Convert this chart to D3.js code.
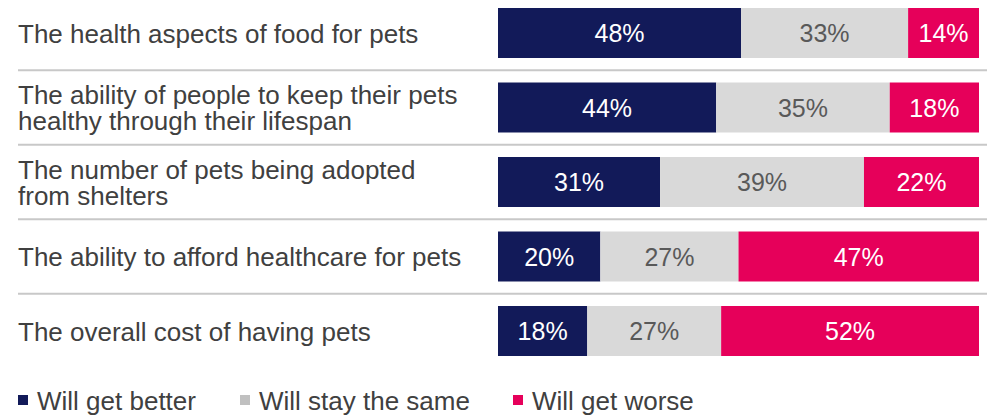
<!DOCTYPE html>
<html lang="en">
<head>
    <meta charset="UTF-8">
    <title>Pets outlook</title>
    <style>
        body { margin: 0; background: #fff; }
        svg { display: block; font-family: "Liberation Sans", Arial, sans-serif; }
    </style>
</head>
<body>
<svg></svg>
<script src="https://d3js.org/d3.v7.min.js"></script>
<script>
    var categories = [
        ["The health aspects of food for pets"],
        ["The ability of people to keep their pets", "healthy through their lifespan"],
        ["The number of pets being adopted", "from shelters"],
        ["The ability to afford healthcare for pets"],
        ["The overall cost of having pets"]
    ];
    var seriesNames = ["Will get better", "Will stay the same", "Will get worse"];
    var better = [48, 44, 31, 20, 18];
    var same = [33, 35, 39, 27, 27];
    var worse = [14, 18, 22, 47, 52];

    var width = 992, height = 416;
    var barLeft = 498, barRight = 979;
    var colors = ["#121a59", "#d9d9d9", "#e6005a"];
    var legendColors = ["#121a59", "#c0c0c0", "#e6005a"];
    var textColors = ["#ffffff", "#595959", "#ffffff"];

    var svg = d3.select("svg").attr("width", width).attr("height", height);

    var rows = categories.map(function (c, i) {
        return {label: c, values: [better[i], same[i], worse[i]], key: i};
    });

    var y = d3.scaleBand()
        .domain(rows.map(function (d) { return d.key; }))
        .range([-4.25, 368.25])
        .paddingInner(0.329)
        .paddingOuter(0.1645);

    // lignes de séparation
    svg.selectAll("line.sep")
        .data(rows.slice(1))
        .enter().append("line")
        .attr("x1", 18).attr("x2", 987)
        .attr("y1", function (d) { return y(d.key) - y.step() * y.paddingInner() / 2; })
        .attr("y2", function (d) { return y(d.key) - y.step() * y.paddingInner() / 2; })
        .style("stroke", "#c8c8c8")
        .style("stroke-width", 2);

    // libellés des lignes
    var labels = svg.selectAll("text.cat")
        .data(rows)
        .enter().append("text")
        .attr("class", "cat")
        .attr("x", 18)
        .style("font-size", "26px")
        .style("fill", "#404040");
    labels.each(function (d) {
        var t = d3.select(this);
        var n = d.label.length;
        var mid = y(d.key) + y.bandwidth() / 2;
        d.label.forEach(function (line, j) {
            t.append("tspan")
                .attr("x", 18)
                .attr("y", mid + 9.5 + (j - (n - 1) / 2) * 26)
                .text(line);
        });
    });

    // barres empilées
    rows.forEach(function (d) {
        var total = d3.sum(d.values);
        var x = d3.scaleLinear().domain([0, total]).range([barLeft, barRight]);
        var acc = 0;
        var segs = d.values.map(function (v, k) {
            var s = {start: acc, end: acc + v, v: v, k: k};
            acc += v;
            return s;
        });
        var g = svg.append("g");
        g.selectAll("rect")
            .data(segs)
            .enter().append("rect")
            .attr("x", function (s) { return x(s.start); })
            .attr("y", y(d.key))
            .attr("width", function (s) { return x(s.end) - x(s.start); })
            .attr("height", y.bandwidth())
            .style("fill", function (s) { return colors[s.k]; });
        g.selectAll("text")
            .data(segs)
            .enter().append("text")
            .attr("x", function (s) { return (x(s.start) + x(s.end)) / 2; })
            .attr("y", y(d.key) + y.bandwidth() / 2 + 9)
            .style("text-anchor", "middle")
            .style("font-size", "25px")
            .style("fill", function (s) { return textColors[s.k]; })
            .text(function (s) { return s.v + "%"; });
    });

    // légende
    var legendX = [18, 240, 513];
    var legend = svg.selectAll("g.legend")
        .data(seriesNames)
        .enter().append("g")
        .attr("transform", function (d, i) { return "translate(" + legendX[i] + ",395)"; });
    legend.append("rect")
        .attr("width", 10).attr("height", 10)
        .style("fill", function (d, i) { return legendColors[i]; });
    legend.append("text")
        .attr("x", 19).attr("y", 15)
        .style("font-size", "26px")
        .style("fill", "#404040")
        .text(function (d) { return d; });
</script>
</body>
</html>
